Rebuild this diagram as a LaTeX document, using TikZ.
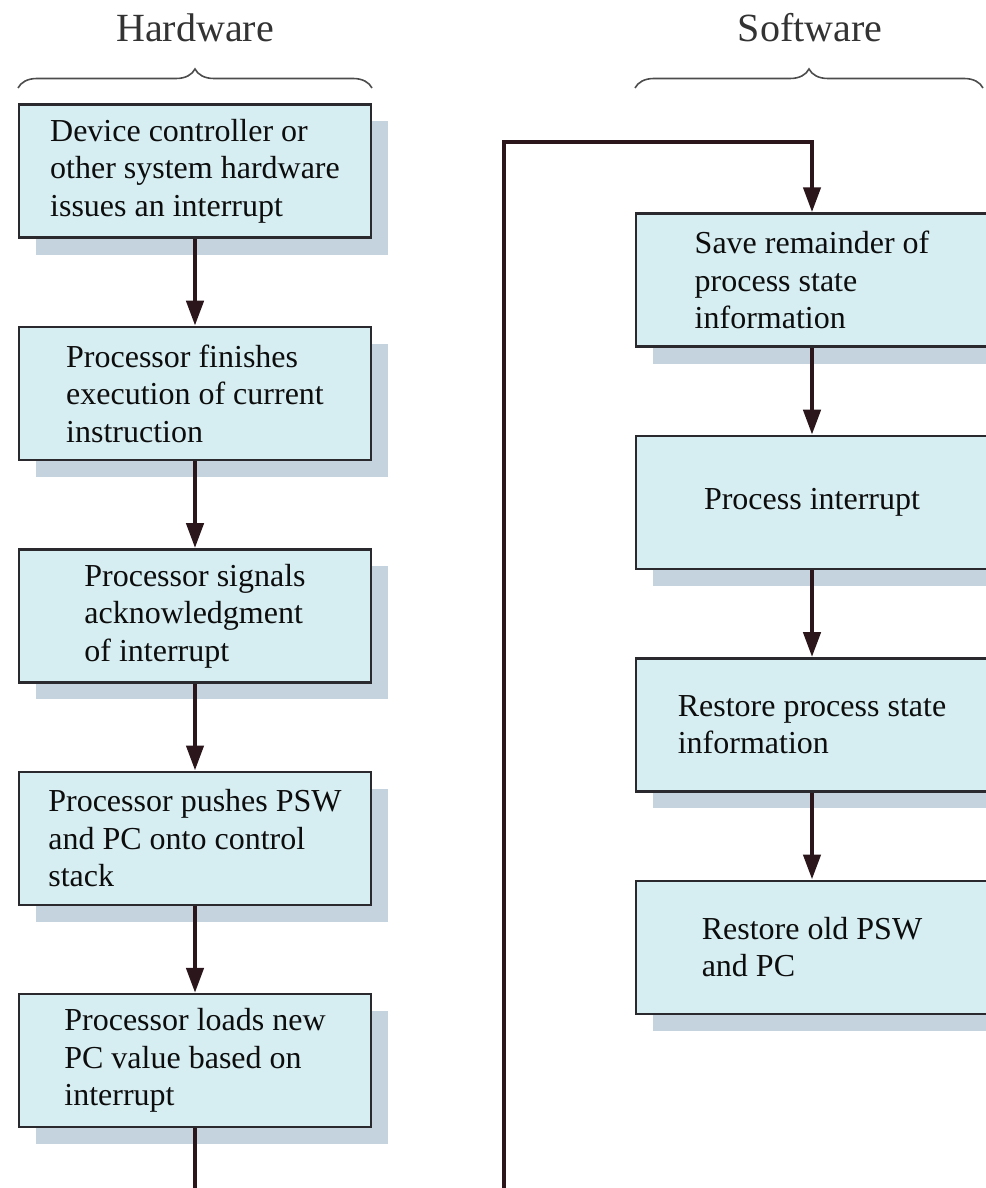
\documentclass[tikz,border=0pt]{standalone}
\usepackage{fontspec}
\setmainfont{Liberation Serif}
\usetikzlibrary{positioning,shadows,arrows.meta,decorations.pathreplacing}

\definecolor{boxfill}{HTML}{D6EEF2}
\definecolor{boxshade}{HTML}{C4D3DD}
\definecolor{linkcol}{HTML}{2B161B}
\definecolor{framecol}{HTML}{2A2A2E}

\begin{document}
\begin{tikzpicture}[x=0.5pt,y=-0.5pt,
  stepbox/.style={draw=framecol, line width=1.2pt, fill=boxfill, align=left,
    text=black!95, minimum width=176pt, minimum height=66.5pt, inner sep=0pt,
    font=\fontsize{16}{18.75}\selectfont,
    drop shadow={shadow xshift=8.5pt, shadow yshift=-8.5pt, fill=boxshade, opacity=1}},
  link/.style={draw=linkcol, line width=2.2pt, -{Triangle[length=12.5pt,width=8.5pt]}},
  head/.style={font=\fontsize{20}{24}\selectfont, text=black!80},
  brace/.style={decorate, decoration={brace,amplitude=9.5pt}, draw=black!70, line width=0.8pt},
  node distance=43.5pt]
  \useasboundingbox (0,0) rectangle (985,1188);

  % Column headings
  \node[head] (hwhead) at (195,28) {Hardware};
  \node[head] (swhead) at (810,28) {Software};
  \draw[brace] (18,88) -- (372,88);
  \draw[brace] (635,88) -- (983,88);

  % Hardware steps
  \node[stepbox] (hw1) at (195,171) {Device controller or\\other system hardware\\issues an interrupt};
  \node[stepbox, below=of hw1] (hw2) {Processor finishes\\execution of current\\instruction};
  \node[stepbox, below=of hw2] (hw3) {Processor signals\\acknowledgment\\of interrupt};
  \node[stepbox, below=of hw3] (hw4) {Processor pushes PSW\\and PC onto control\\stack};
  \node[stepbox, below=of hw4] (hw5) {Processor loads new\\PC value based on\\interrupt};

  % Software steps
  \node[stepbox] (sw1) at (812,280) {Save remainder of\\process state\\information};
  \node[stepbox, below=of sw1] (sw2) {Process interrupt};
  \node[stepbox, below=of sw2] (sw3) {Restore process state\\information};
  \node[stepbox, below=of sw3] (sw4) {Restore old PSW\\and PC};

  % Flow
  \foreach \a/\b in {hw1/hw2,hw2/hw3,hw3/hw4,hw4/hw5,sw1/sw2,sw2/sw3,sw3/sw4}
    \draw[link] (\a) -- (\b);

  % Hand-over from hardware to software
  \coordinate (under) at (504,1200);
  \coordinate (bend) at (504,142);
  \draw[link] (hw5.south) |- (under) -- (bend) -| (sw1.north);
\end{tikzpicture}
\end{document}
